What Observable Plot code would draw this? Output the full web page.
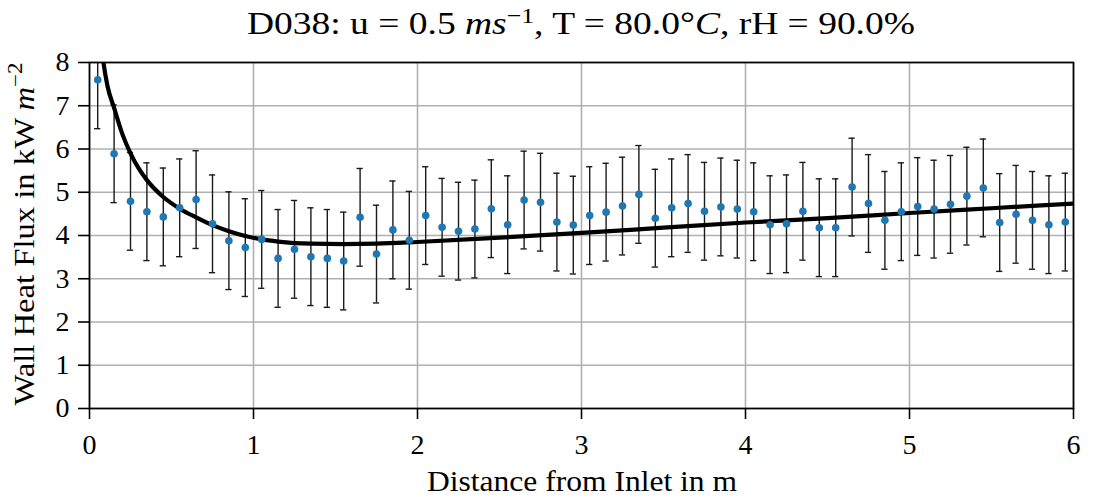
<!DOCTYPE html>
<html>
<head>
<meta charset="utf-8">
<script src="https://cdn.jsdelivr.net/npm/d3@7"></script>
<script src="https://cdn.jsdelivr.net/npm/@observablehq/plot@0.6"></script>
<style>
  html, body { margin: 0; padding: 0; background: #fff; }
  #chart svg { display: block; }
</style>
</head>
<body>
<div id="chart"></div>
<script>
// Measured positions along the channel (m)
const distance = [0.05,0.15,0.25,0.35,0.45,0.55,0.65,0.75,0.85,0.95,
  1.05,1.15,1.25,1.35,1.45,1.55,1.65,1.75,1.85,1.95,
  2.05,2.15,2.25,2.35,2.45,2.55,2.65,2.75,2.85,2.95,
  3.05,3.15,3.25,3.35,3.45,3.55,3.65,3.75,3.85,3.95,
  4.05,4.15,4.25,4.35,4.45,4.55,4.65,4.75,4.85,4.95,
  5.05,5.15,5.25,5.35,5.45,5.55,5.65,5.75,5.85,5.95];
// Measured wall heat flux (kW m^-2)
const heatFlux = [7.60,5.89,4.79,4.55,4.43,4.64,4.83,4.27,3.88,3.72,
  3.91,3.47,3.68,3.51,3.47,3.41,4.42,3.57,4.13,3.89,
  4.46,4.19,4.10,4.15,4.62,4.25,4.82,4.77,4.31,4.24,
  4.46,4.54,4.68,4.95,4.40,4.64,4.74,4.56,4.66,4.61,
  4.55,4.25,4.27,4.56,4.18,4.18,5.12,4.74,4.35,4.55,
  4.67,4.61,4.72,4.91,5.10,4.30,4.49,4.35,4.25,4.31];
// Half-width of the error bars (kW m^-2)
const fluxError = [1.13,1.13,1.13,1.13,1.13,1.13,1.13,1.13,1.13,1.13,
  1.13,1.13,1.13,1.13,1.13,1.13,1.13,1.13,1.13,1.13,
  1.13,1.13,1.13,1.13,1.13,1.13,1.13,1.13,1.13,1.13,
  1.13,1.13,1.13,1.13,1.13,1.13,1.13,1.13,1.13,1.13,
  1.13,1.13,1.13,1.13,1.13,1.13,1.13,1.13,1.13,1.13,
  1.13,1.13,1.13,1.13,1.13,1.13,1.13,1.13,1.13,1.13];
// Model curve
const modelX = [0.07,0.085,0.11,0.15,0.20,0.25,0.30,0.35,0.45,0.55,0.65,0.75,0.85,0.95,1.05,1.15,1.35,1.55,1.75,2.0,2.5,3.0,3.5,4.0,4.5,5.0,5.5,6.0];
const modelY = [8.45,8.00,7.45,6.95,6.35,5.90,5.55,5.28,4.89,4.62,4.42,4.24,4.10,3.99,3.91,3.86,3.81,3.80,3.81,3.85,3.95,4.06,4.18,4.30,4.40,4.52,4.63,4.74];
const xTicks = [0,1,2,3,4,5,6];
const yTicks = [0,1,2,3,4,5,6,7,8];

const points = distance.map((x, i) => ({x, y: heatFlux[i], e: fluxError[i]}));
const model = modelX.map((x, i) => ({x, y: modelY[i]}));

const capHalf = 0.019;
const fontFamily = "'Liberation Serif', 'DejaVu Serif', serif";

const chart = Plot.plot({
  width: 1094,
  height: 500,
  marginTop: 62,
  marginBottom: 92,
  marginLeft: 89,
  marginRight: 21,
  style: {fontFamily, fontSize: "28px", color: "#000", background: "#fff"},
  x: {domain: [0, 6], ticks: xTicks, label: null},
  y: {domain: [0, 8], ticks: yTicks, label: null},
  marks: [
    Plot.gridX(xTicks, {stroke: "#b0b0b0", strokeOpacity: 1, strokeWidth: 1.6}),
    Plot.gridY(yTicks, {stroke: "#b0b0b0", strokeOpacity: 1, strokeWidth: 1.6}),
    Plot.ruleX(points, {x: "x", y1: d => d.y - d.e, y2: d => d.y + d.e, stroke: "#1a1a1a", strokeWidth: 1.4, clip: true}),
    Plot.ruleY(points, {y: d => d.y + d.e, x1: d => d.x - capHalf, x2: d => d.x + capHalf, stroke: "#1a1a1a", strokeWidth: 1.4, clip: true}),
    Plot.ruleY(points, {y: d => d.y - d.e, x1: d => d.x - capHalf, x2: d => d.x + capHalf, stroke: "#1a1a1a", strokeWidth: 1.4, clip: true}),
    Plot.line(model, {x: "x", y: "y", stroke: "#000", strokeWidth: 4.2, curve: "monotone-x", clip: true}),
    Plot.dot(points, {x: "x", y: "y", r: 3.8, fill: "#1f77b4", stroke: "none"}),
    Plot.frame({stroke: "#000", strokeWidth: 1.7}),
    Plot.axisX(xTicks, {tickSize: 11, tickPadding: 15, fontSize: 28, fontFamily, tickFormat: d => String(d), stroke: "#000", strokeWidth: 1.6}),
    Plot.axisY(yTicks, {tickSize: 11, tickPadding: 9, fontSize: 28, fontFamily, tickFormat: d => String(d), stroke: "#000", strokeWidth: 1.6})
  ]
});

document.getElementById("chart").appendChild(chart);

const svg = d3.select(chart);
svg.selectAll("text").attr("font-family", fontFamily).style("font-family", fontFamily);

// Title
const title = svg.append("text")
  .attr("x", 581).attr("y", 34)
  .attr("text-anchor", "middle")
  .attr("font-family", fontFamily)
  .attr("font-size", 32)
  .attr("fill", "#000")
  .attr("textLength", 668)
  .attr("lengthAdjust", "spacingAndGlyphs");
title.append("tspan").text("D038: u = 0.5 ");
title.append("tspan").attr("font-style", "italic").text("ms");
title.append("tspan").attr("font-size", 22).attr("dy", -11).text("−1");
title.append("tspan").attr("dy", 11).text(", T = 80.0°");
title.append("tspan").attr("font-style", "italic").text("C");
title.append("tspan").text(", rH = 90.0%");

// X label
svg.append("text")
  .attr("x", 582).attr("y", 491)
  .attr("text-anchor", "middle")
  .attr("font-family", fontFamily)
  .attr("font-size", 28.5)
  .attr("fill", "#000")
  .attr("textLength", 310)
  .attr("lengthAdjust", "spacingAndGlyphs")
  .text("Distance from Inlet in m");

// Y label
const yl = svg.append("text")
  .attr("transform", "translate(34,234) rotate(-90)")
  .attr("text-anchor", "middle")
  .attr("font-family", fontFamily)
  .attr("font-size", 28.5)
  .attr("fill", "#000")
  .attr("textLength", 343)
  .attr("lengthAdjust", "spacingAndGlyphs");
yl.append("tspan").text("Wall Heat Flux in kW ");
yl.append("tspan").attr("font-style", "italic").text("m");
yl.append("tspan").attr("font-size", 20).attr("dy", -12).text("−2");
</script>
</body>
</html>
